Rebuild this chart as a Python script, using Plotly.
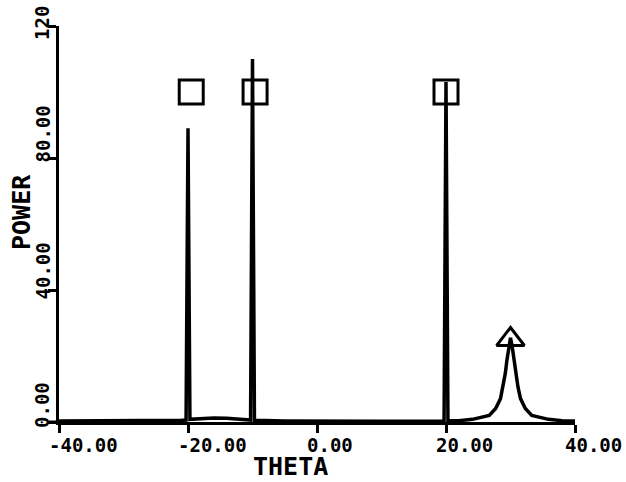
import plotly.graph_objects as go

# Spectrum
theta = [-40, -35, -30, -25, -21, -20.3, -20.0, -19.7, -18, -16, -14, -12, -10.3, -10.0, -9.7,
         -5, 0, 5, 10, 15, 19.7, 20.0, 20.3, 22, 24.1, 26.7, 27.7, 28.45, 28.85, 29.2, 29.45, 29.75,
         30.0, 30.25, 30.55, 30.8, 31.15, 31.55, 32.3, 33.3, 35.9, 38, 40]
power = [0.3, 0.3, 0.3, 0.4, 0.5, 0.6, 89.0, 0.8, 1.1, 1.2, 1.1, 0.8, 0.6, 110.0, 0.5,
         0.3, 0.2, 0.2, 0.2, 0.2, 0.3, 103.0, 0.4, 0.4, 0.8, 2.0, 4.1, 7.1, 10.7, 14.8, 18.8, 23.0,
         25.5, 23.0, 18.8, 14.8, 10.7, 7.1, 4.1, 2.0, 0.8, 0.4, 0.3]

# Estimated source markers
square_theta = [-19.5, -9.6, 20.0]
square_power = [100, 100, 100]
triangle_theta = [30.0]
triangle_power = [25.0]

x_ticks = [-40, -20, 0, 20, 40]
x_tick_labels = ["-40.00", "-20.00", "0.00", "20.00", "40.00"]
y_ticks = [0, 40, 80, 120]
y_tick_labels = ["0.00", "40.00", "80.00", "120"]
y_label_offsets = [8, 12, 7, 16]

FONT = "DejaVu Sans Mono"
TICK_SIZE = 19
ADV = 0.602 * TICK_SIZE

PLOT_W = 516
PLOT_H = 396

fig = go.Figure()
fig.add_trace(go.Scatter(x=theta, y=power, mode="lines",
                         line=dict(color="black", width=3.5), showlegend=False,
                         cliponaxis=False))
fig.add_trace(go.Scatter(x=square_theta, y=square_power, mode="markers",
                         marker=dict(symbol="square-open", size=24, color="black",
                                     line=dict(color="black", width=3)),
                         showlegend=False, cliponaxis=False))
fig.add_trace(go.Scatter(x=triangle_theta, y=triangle_power, mode="markers",
                         marker=dict(symbol="triangle-up-open", size=24, color="black",
                                     line=dict(color="black", width=3)),
                         showlegend=False, cliponaxis=False))

annotations = []
for v, t in zip(x_ticks, x_tick_labels):
    annotations.append(dict(x=v, xref="x", y=0, yref="paper", text="<b>%s</b>" % t,
                            showarrow=False, xanchor="left", yanchor="top",
                            xshift=-ADV - 1, yshift=-10,
                            font=dict(family=FONT, size=TICK_SIZE, color="black")))
for v, t, off in zip(y_ticks, y_tick_labels, y_label_offsets):
    annotations.append(dict(x=-(59 - 42) / PLOT_W, xref="paper", y=v, yref="y", text="<b>%s</b>" % t,
                            showarrow=False, xanchor="center", yanchor="bottom",
                            textangle=-90, yshift=-off,
                            font=dict(family=FONT, size=TICK_SIZE, color="black")))
annotations.append(dict(x=(290 - 59) / PLOT_W, xref="paper", y=-(466 - 422) / PLOT_H, yref="paper",
                        text="<b>THETA</b>", showarrow=False, xanchor="center", yanchor="middle",
                        font=dict(family=FONT, size=25, color="black")))
annotations.append(dict(x=-(59 - 21) / PLOT_W, xref="paper", y=(422 - 212) / PLOT_H, yref="paper",
                        text="<b>POWER</b>", showarrow=False, xanchor="center", yanchor="middle",
                        textangle=-90,
                        font=dict(family=FONT, size=25, color="black")))

fig.update_layout(
    width=626, height=482,
    margin=dict(l=59, r=51, t=26, b=60),
    paper_bgcolor="white", plot_bgcolor="white",
    showlegend=False,
    annotations=annotations,
    shapes=[dict(type="line", xref="paper", yref="paper", x0=-10 / PLOT_W, x1=0, y0=0, y1=0,
                 line=dict(color="black", width=3))],
    xaxis=dict(range=[-40, 40], showgrid=False, zeroline=False, showline=True,
               linecolor="black", linewidth=3, ticks="outside", ticklen=8, tickwidth=2.5,
               tickcolor="black", tickvals=x_ticks, showticklabels=False),
    yaxis=dict(range=[0, 120], showgrid=False, zeroline=False, showline=True,
               linecolor="black", linewidth=3, ticks="outside", ticklen=8, tickwidth=2.5,
               tickcolor="black", tickvals=y_ticks, showticklabels=False),
)

fig.write_html("out.html", config={"displayModeBar": False},
               post_script="document.body.style.margin='0';document.body.style.overflow='hidden';")
